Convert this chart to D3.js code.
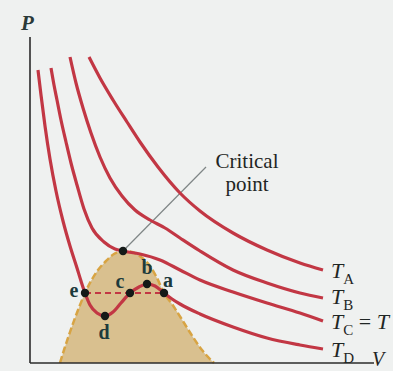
<!DOCTYPE html>
<html>
<head>
<meta charset="utf-8">
<script src="https://cdn.jsdelivr.net/npm/d3@7"></script>
<style>
  html, body { margin: 0; padding: 0; background: #eff1f0; }
  svg { display: block; }
</style>
</head>
<body>
<svg id="chart" width="393" height="371"></svg>
<script>
// Van der Waals isotherms on a P–V diagram (arbitrary units)
const isothermNames = ["A", "B", "C", "D"];

const isoA_V = [5.9, 7.0, 8.3, 9.7, 11.0, 12.8, 15.0, 17.0, 20.3, 23.7, 27.0, 29.3];
const isoA_P = [30.6, 28.5, 26.3, 24.1, 22.1, 19.6, 17.0, 15.2, 13.0, 11.3, 10.0, 9.3];

const isoB_V = [4.0, 4.6, 5.3, 6.1, 7.0, 8.0, 9.2, 10.5, 12.0, 13.5, 15.0, 17.0, 20.3, 23.7, 27.0, 29.3];
const isoB_P = [30.6, 28.0, 25.5, 23.0, 20.6, 18.5, 16.7, 15.3, 14.3, 13.5, 12.5, 11.2, 9.3, 8.0, 7.0, 6.5];

const isoC_V = [2.1, 2.4, 2.7, 3.1, 3.6, 4.1, 4.7, 5.4, 6.2, 7.4, 8.5, 9.3, 11.0, 13.0, 15.0, 17.0, 20.3, 23.7, 27.0, 29.3];
const isoC_P = [29.5, 27.8, 26.3, 24.3, 22.1, 20.0, 17.8, 15.4, 13.5, 12.1, 11.4, 11.2, 10.9, 10.3, 9.3, 8.3, 7.1, 6.0, 5.0, 4.2];

const isoD_V = [0.8, 1.1, 1.5, 2.0, 2.6, 3.3, 4.0, 4.7, 5.1, 5.5, 6.0, 6.7, 7.5, 8.3, 9.1, 10.0, 10.9, 11.7, 12.5, 13.4, 14.2, 15.0, 17.0, 20.3, 23.7, 27.0, 29.3];
const isoD_P = [29.3, 26.8, 23.7, 20.4, 17.2, 14.2, 11.7, 9.5, 8.2, 7.0, 5.8, 5.0, 4.7, 5.1, 6.0, 7.0, 7.6, 7.9, 7.7, 7.0, 6.4, 5.9, 4.9, 3.6, 2.5, 1.8, 1.4];

// Liquid–vapour coexistence dome
const dome_V = [3.0, 3.4, 3.9, 4.5, 5.0, 5.5, 6.1, 6.8, 7.6, 8.4, 9.3, 10.2, 11.1, 12.0, 12.7, 13.4, 14.2, 15.1, 16.1, 17.2, 18.4];
const dome_P = [0, 1.3, 2.8, 4.5, 5.8, 7.0, 8.2, 9.3, 10.2, 10.9, 11.2, 11.1, 10.6, 9.7, 8.5, 7.0, 5.9, 4.5, 2.9, 1.3, 0];

// Marked states on the T_D isotherm
const pointNames = ["e", "d", "c", "b", "a"];
const point_V = [5.5, 7.5, 10.0, 11.7, 13.4];
const point_P = [7.0, 4.7, 7.0, 7.9, 7.0];

const critical = { V: 9.3, P: 11.2 };

const svg = d3.select("#chart");
const x = d3.scaleLinear().domain([0, 34]).range([30, 370]);
const y = d3.scaleLinear().domain([0, 32.6]).range([363, 37]);

const zip = (vs, ps) => vs.map((v, i) => [v, ps[i]]);
const line = d3.line().x(d => x(d[0])).y(d => y(d[1])).curve(d3.curveMonotoneX);

// dome
const domePts = zip(dome_V, dome_P);
svg.append("path")
  .attr("d", line(domePts) + "Z")
  .attr("fill", "#d9c08f")
  .attr("stroke", "none");
svg.append("path")
  .attr("d", line(domePts))
  .attr("fill", "none")
  .attr("stroke", "#d8a443")
  .attr("stroke-width", 2.5)
  .attr("stroke-dasharray", "7 3");

// axes
svg.append("line").attr("x1", x(0)).attr("y1", y(32.6)).attr("x2", x(0)).attr("y2", y(0))
  .attr("stroke", "#2b2b2b").attr("stroke-width", 1.6);
svg.append("line").attr("x1", x(0)).attr("y1", y(0)).attr("x2", x(34.4)).attr("y2", y(0))
  .attr("stroke", "#2b2b2b").attr("stroke-width", 1.6);

// leader line to the critical point
svg.append("line")
  .attr("x1", x(critical.V)).attr("y1", y(critical.P))
  .attr("x2", x(17.6)).attr("y2", y(19.6))
  .attr("stroke", "#7f8686").attr("stroke-width", 1.2);

// isotherms
const isotherms = [zip(isoA_V, isoA_P), zip(isoB_V, isoB_P), zip(isoC_V, isoC_P), zip(isoD_V, isoD_P)];
svg.selectAll("path.iso").data(isotherms).join("path")
  .attr("class", "iso")
  .attr("d", line)
  .attr("fill", "none")
  .attr("stroke", "#c23744")
  .attr("stroke-width", 3.2)
  .attr("stroke-linecap", "butt");

// horizontal tie line e–a
svg.append("line")
  .attr("x1", x(point_V[0])).attr("y1", y(point_P[0]))
  .attr("x2", x(point_V[4])).attr("y2", y(point_P[4]))
  .attr("stroke", "#c23744").attr("stroke-width", 2)
  .attr("stroke-dasharray", "6 4");

// state dots
const pts = pointNames.map((n, i) => ({ n, V: point_V[i], P: point_P[i] }));
svg.selectAll("circle.pt").data(pts).join("circle")
  .attr("class", "pt")
  .attr("cx", d => x(d.V)).attr("cy", d => y(d.P)).attr("r", 4.2)
  .attr("fill", "#151a18");
svg.append("circle").attr("cx", x(critical.V)).attr("cy", y(critical.P)).attr("r", 4.2).attr("fill", "#151a18");

// state labels
const labelOffset = { e: [-11, 4], d: [-1, 23], c: [-10, -5], b: [0, -10], a: [4, -6] };
svg.selectAll("text.pt").data(pts).join("text")
  .attr("class", "pt")
  .attr("x", d => x(d.V) + labelOffset[d.n][0])
  .attr("y", d => y(d.P) + labelOffset[d.n][1])
  .attr("text-anchor", "middle")
  .attr("font-family", "Liberation Serif, serif")
  .attr("font-weight", "bold")
  .attr("font-size", 20)
  .attr("fill", "#1d3a3c")
  .text(d => d.n);

// critical point caption
const cap = svg.append("text")
  .attr("font-family", "Liberation Serif, serif")
  .attr("font-size", 21)
  .attr("fill", "#1f2624")
  .attr("text-anchor", "middle");
cap.append("tspan").attr("x", 247).attr("y", 168).text("Critical");
cap.append("tspan").attr("x", 247).attr("y", 191).text("point");

// isotherm labels
const labelY = [278, 304, 329, 357];
isothermNames.forEach((n, i) => {
  const t = svg.append("text")
    .attr("x", 331).attr("y", labelY[i])
    .attr("font-family", "Liberation Serif, serif")
    .attr("fill", "#1f2624");
  t.append("tspan").attr("font-style", "italic").attr("font-size", 22).text("T");
  t.append("tspan").attr("font-size", 15).attr("dy", 6).text(n);
  if (n === "C") {
    t.append("tspan").attr("font-size", 22).attr("dy", -6).text(" = ");
    t.append("tspan").attr("font-size", 22).attr("font-style", "italic").text("T");
  }
});

// axis titles
svg.append("text").attr("x", 21).attr("y", 30)
  .attr("font-family", "Liberation Serif, serif").attr("font-size", 21)
  .attr("font-style", "italic").attr("font-weight", "bold").attr("fill", "#2a3a38")
  .text("P");
svg.append("text").attr("x", 372).attr("y", 366)
  .attr("font-family", "Liberation Serif, serif").attr("font-size", 20)
  .attr("font-style", "italic").attr("fill", "#1f2624")
  .text("V");
</script>
</body>
</html>
